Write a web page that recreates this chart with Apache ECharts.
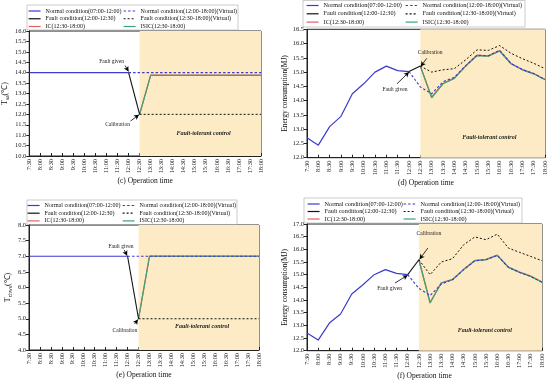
<!DOCTYPE html>
<html><head><meta charset="utf-8">
<script src="https://cdn.jsdelivr.net/npm/echarts@6/dist/echarts.min.js"></script>
<style>html,body{margin:0;padding:0;background:#fff}#c{width:550px;height:384px}</style>
</head><body><div id="c"></div>
<script>
// ---------- data ----------
const times = [7.5,8,8.5,9,9.5,10,10.5,11,11.5,12,12.5,13,13.5,14,14.5,15,15.5,16,16.5,17,17.5,18];
const timeLabels = ['7:30','8:00','8:30','9:00','9:30','10:00','10:30','11:00','11:30','12:00','12:30','13:00','13:30','14:00','14:30','15:00','15:30','16:00','16:30','17:00','17:30','18:00'];

const seriesNames = ['Normal condition(07:00-12:00)','Normal condition(12:00-18:00)(Virtual)','Fault condition(12:00-12:30)','Fault condition(12:30-18:00)(Virtual)','IC(12:30-18:00)','ISIC(12:30-18:00)'];

// panel (c): T_sa
const cNormal        = [14,14,14,14,14,14,14,14,14,14];                 // 7:30-12:00
const cNormalVirtual = [14,14,14,14,14,14,14,14,14,14,14,14,14];       // 12:00-18:00
const cFault         = [14,12];                                        // 12:00-12:30
const cFaultVirtual  = [12,12,12,12,12,12,12,12,12,12,12,12];          // 12:30-18:00
const cIC            = [12,13.88,13.88,13.88,13.88,13.88,13.88,13.88,13.88,13.88,13.88,13.88];
const cISIC          = [12,13.87,13.87,13.87,13.87,13.87,13.87,13.87,13.87,13.87,13.87,13.87];

// panel (d): energy consumption
const dNormal        = [12.70,12.44,13.09,13.45,14.24,14.59,15.00,15.21,15.05,15.02];
const dNormalVirtual = [15.02,14.48,14.24,14.66,14.82,15.22,15.59,15.57,15.76,15.30,15.09,14.95,14.74];
const dFault         = [15.02,15.21];
const dFaultVirtual  = [15.21,15.00,15.08,15.12,15.43,15.78,15.76,15.93,15.66,15.47,15.31,15.12];
const dIC            = [15.21,14.12,14.60,14.79,15.22,15.59,15.57,15.75,15.30,15.09,14.95,14.74];
const dISIC          = [15.21,14.10,14.59,14.78,15.21,15.58,15.56,15.74,15.29,15.08,14.94,14.73];

// panel (e): T_chws
const eNormal        = [7,7,7,7,7,7,7,7,7,7];
const eNormalVirtual = [7,7,7,7,7,7,7,7,7,7,7,7,7];
const eFault         = [7,5];
const eFaultVirtual  = [5,5,5,5,5,5,5,5,5,5,5,5];
const eIC            = [5,7,7,7,7,7,7,7,7,7,7,7];
const eISIC          = [5,7,7,7,7,7,7,7,7,7,7,7];

// panel (f): energy consumption
const fNormal        = [12.70,12.42,13.09,13.45,14.24,14.60,15.00,15.20,15.05,15.00];
const fNormalVirtual = [15.00,14.46,14.18,14.63,14.80,15.20,15.55,15.59,15.76,15.29,15.09,14.93,14.70];
const fFault         = [15.00,15.59];
const fFaultVirtual  = [15.59,15.00,15.50,15.63,16.18,16.49,16.38,16.60,16.05,15.88,15.72,15.55];
const fIC            = [15.59,13.90,14.68,14.81,15.21,15.56,15.60,15.77,15.30,15.10,14.94,14.71];
const fISIC          = [15.59,13.88,14.67,14.80,15.20,15.55,15.59,15.76,15.29,15.09,14.93,14.70];

// ---------- helpers ----------
const FONT = 'Liberation Serif';
const BLUE = '#3b3bd0', GREEN = '#3aa37c', RED = '#e06060', BLACK = '#111';
const SHADE = '#fcebc5';
const startIdx = {normal:0, normalV:9, fault:9, faultV:10, ic:10};
function pairs(start, vals){ return vals.map((v,i)=>[times[start+i], v]); }

function panelSeries(g, d, ann){
  const base = {type:'line', xAxisIndex:g, yAxisIndex:g, symbol:'none', showSymbol:false, animation:false, silent:true};
  return [
    Object.assign({}, base, {name:seriesNames[0], data:pairs(startIdx.normal,d.normal), z:5,
      lineStyle:{color:BLUE,width:1.2}, itemStyle:{color:BLUE},
      markArea:{silent:true, itemStyle:{color:SHADE}, data:[[{xAxis:12.5},{xAxis:18}]]}}),
    Object.assign({}, base, {name:seriesNames[4], data:pairs(startIdx.ic,d.ic), z:3,
      lineStyle:{color:RED,width:1.3}, itemStyle:{color:RED}}),
    Object.assign({}, base, {name:seriesNames[5], data:pairs(startIdx.ic,d.isic), z:4,
      lineStyle:{color:GREEN,width:1.2}, itemStyle:{color:GREEN}}),
    Object.assign({}, base, {name:seriesNames[1], data:pairs(startIdx.normalV,d.normalV), z:6,
      lineStyle:{color:BLUE,width:1.1,type:[2.5,2]}, itemStyle:{color:BLUE}}),
    Object.assign({}, base, {name:seriesNames[3], data:pairs(startIdx.faultV,d.faultV), z:6,
      lineStyle:{color:BLACK,width:1,type:[2,2]}, itemStyle:{color:BLACK}}),
    Object.assign({}, base, {name:seriesNames[2], data:pairs(startIdx.fault,d.fault), z:7,
      lineStyle:{color:BLACK,width:1.1}, itemStyle:{color:BLACK},
      markLine:{silent:true, animation:false, symbol:['none','arrow'], symbolSize:[4,5],
        lineStyle:{color:'#000',width:0.8,type:'solid'}, label:{show:false},
        data: ann.arrows.map(a=>[{coord:a[0]},{coord:a[1]}])},
      markPoint:{silent:true, animation:false, symbol:'circle', symbolSize:0,
        data: ann.texts.map(t=>({name:t[0], coord:t[1],
          label:{show:true, position:'inside', formatter:'{b}', fontFamily:FONT, color:'#222',
            fontSize:t[2]||5.5, fontWeight:t[3]?'bold':'normal', fontStyle:t[3]?'italic':'normal'}}))}})
  ];
}

function xAx(g, name, gap){
  return {type:'value', gridIndex:g, min:7.5, max:18, interval:0.5,
    axisLabel:{rotate:90, fontSize:6.3, fontFamily:FONT, color:'#222', margin:3,
      formatter:v=>timeLabels[Math.round((v-7.5)/0.5)]},
    axisTick:{inside:true, length:3, lineStyle:{color:'#222'}},
    axisLine:{onZero:false, lineStyle:{color:'#222',width:1}}, splitLine:{show:false},
    name:name, nameLocation:'middle', nameGap:gap,
    nameTextStyle:{fontSize:7.5, fontFamily:FONT, color:'#111'}};
}
function yAx(g, min, max, name, gap, rich){
  return {type:'value', gridIndex:g, min:min, max:max, interval:0.5,
    axisLabel:{fontSize:6.5, fontFamily:FONT, color:'#222', margin:3, formatter:v=>v.toFixed(1)},
    axisTick:{show:true, length:3, lineStyle:{color:'#222'}},
    axisLine:{show:true, lineStyle:{color:'#222',width:1}}, splitLine:{show:false},
    name:name, nameLocation:'middle', nameGap:gap, nameRotate:90,
    nameTextStyle:{fontSize:7.5, fontFamily:FONT, color:'#111', rich:rich||{}}};
}
const subRich = {a:{fontSize:8, fontFamily:FONT, color:'#111', lineHeight:12, verticalAlign:'middle'},
                 b:{fontSize:5.5, fontFamily:FONT, color:'#111', lineHeight:12, verticalAlign:'bottom'}};

function legends(leftText1, leftText2, top, spacing, fs){
  const common = {orient:'vertical', top:top, itemWidth:12, itemHeight:7, itemGap:spacing-7, padding:0,
    selectedMode:false, itemStyle:{opacity:0}, lineStyle:{width:1.2},
    textStyle:{fontSize:fs, fontFamily:FONT, color:'#111', lineHeight:7}};
  return [
    Object.assign({}, common, {left:leftText1-17, data:[seriesNames[0],seriesNames[2],seriesNames[4]]}),
    Object.assign({}, common, {left:leftText2-17, data:[seriesNames[1],seriesNames[3],seriesNames[5]]})
  ];
}

const annC = {arrows:[[[11.84,14.34],[12.0,14.06]],[[12.09,11.68],[12.47,11.98]]],
  texts:[['Fault given',[11.23,14.51]],['Calibration',[11.5,11.49]],['Fault-tolerant control',[15.4,11.1],6,true]]};
const annD = {arrows:[[[11.47,14.59],[12.0,15.0]],[[12.78,15.48],[12.52,15.2]]],
  texts:[['Fault given',[11.38,14.40]],['Calibration',[12.93,15.69]],['Fault-tolerant control',[15.54,12.7],6,true]]};
const annE = {arrows:[[[11.85,7.2],[11.98,7.02]],[[12.32,4.83],[12.47,4.98]]],
  texts:[['Fault given',[11.7,7.31]],['Calibration',[11.88,4.62]],['Fault-tolerant control',[15.4,4.75],6,true]]};
const annF = {arrows:[[[11.43,14.67],[12.0,14.98]],[[12.9,16.05],[12.53,15.61]]],
  texts:[['Fault given',[11.19,14.45]],['Calibration',[12.95,16.61]],['Fault-tolerant control',[15.45,12.79],6,true]]};

const option = {
  animation:false,
  backgroundColor:'#fff',
  grid:[
    {left:29, top:31, width:232, height:125, show:true, borderColor:'#222', borderWidth:1},
    {left:307, top:29.3, width:238, height:128.4, show:true, borderColor:'#222', borderWidth:1},
    {left:29, top:225, width:230, height:125, show:true, borderColor:'#222', borderWidth:1},
    {left:307, top:224, width:235, height:126.7, show:true, borderColor:'#222', borderWidth:1}
  ],
  xAxis:[xAx(0,'(c) Operation time',18), xAx(1,'(d) Operation time',18), xAx(2,'(e) Operation time',20), xAx(3,'(f) Operation time',21)],
  yAxis:[
    yAx(0,10,16,'{a|T}{b|sa}{a|(℃)}',17,subRich),
    yAx(1,12,16.5,'Energy consumption(MJ)',16),
    yAx(2,4,8,'{a|T}{b|chws}{a|(℃)}',15,subRich),
    yAx(3,12,17,'Energy consumption(MJ)',16)
  ],
  legend:[].concat(
    legends(45,140,7.5,7.75,6),
    legends(323,422,2,8.3,6.2),
    legends(44,139,202,7.7,6),
    legends(324,420,200.5,7.5,6.2)
  ),
  graphic:[
    {type:'rect', shape:{x:27,y:5,width:211,height:25}, style:{fill:'none',stroke:'#aaa',lineWidth:0.6}, silent:true},
    {type:'rect', shape:{x:303,y:0.5,width:222,height:26.5}, style:{fill:'none',stroke:'#aaa',lineWidth:0.6}, silent:true},
    {type:'rect', shape:{x:27,y:200,width:210,height:24.5}, style:{fill:'none',stroke:'#aaa',lineWidth:0.6}, silent:true},
    {type:'rect', shape:{x:304,y:198,width:218,height:25}, style:{fill:'none',stroke:'#aaa',lineWidth:0.6}, silent:true}
  ],
  series:[].concat(
    panelSeries(0,{normal:cNormal,normalV:cNormalVirtual,fault:cFault,faultV:cFaultVirtual,ic:cIC,isic:cISIC},annC),
    panelSeries(1,{normal:dNormal,normalV:dNormalVirtual,fault:dFault,faultV:dFaultVirtual,ic:dIC,isic:dISIC},annD),
    panelSeries(2,{normal:eNormal,normalV:eNormalVirtual,fault:eFault,faultV:eFaultVirtual,ic:eIC,isic:eISIC},annE),
    panelSeries(3,{normal:fNormal,normalV:fNormalVirtual,fault:fFault,faultV:fFaultVirtual,ic:fIC,isic:fISIC},annF)
  )
};
const chart = echarts.init(document.getElementById('c'), null, {renderer:'canvas'});
chart.setOption(option);
</script>
</body></html>
